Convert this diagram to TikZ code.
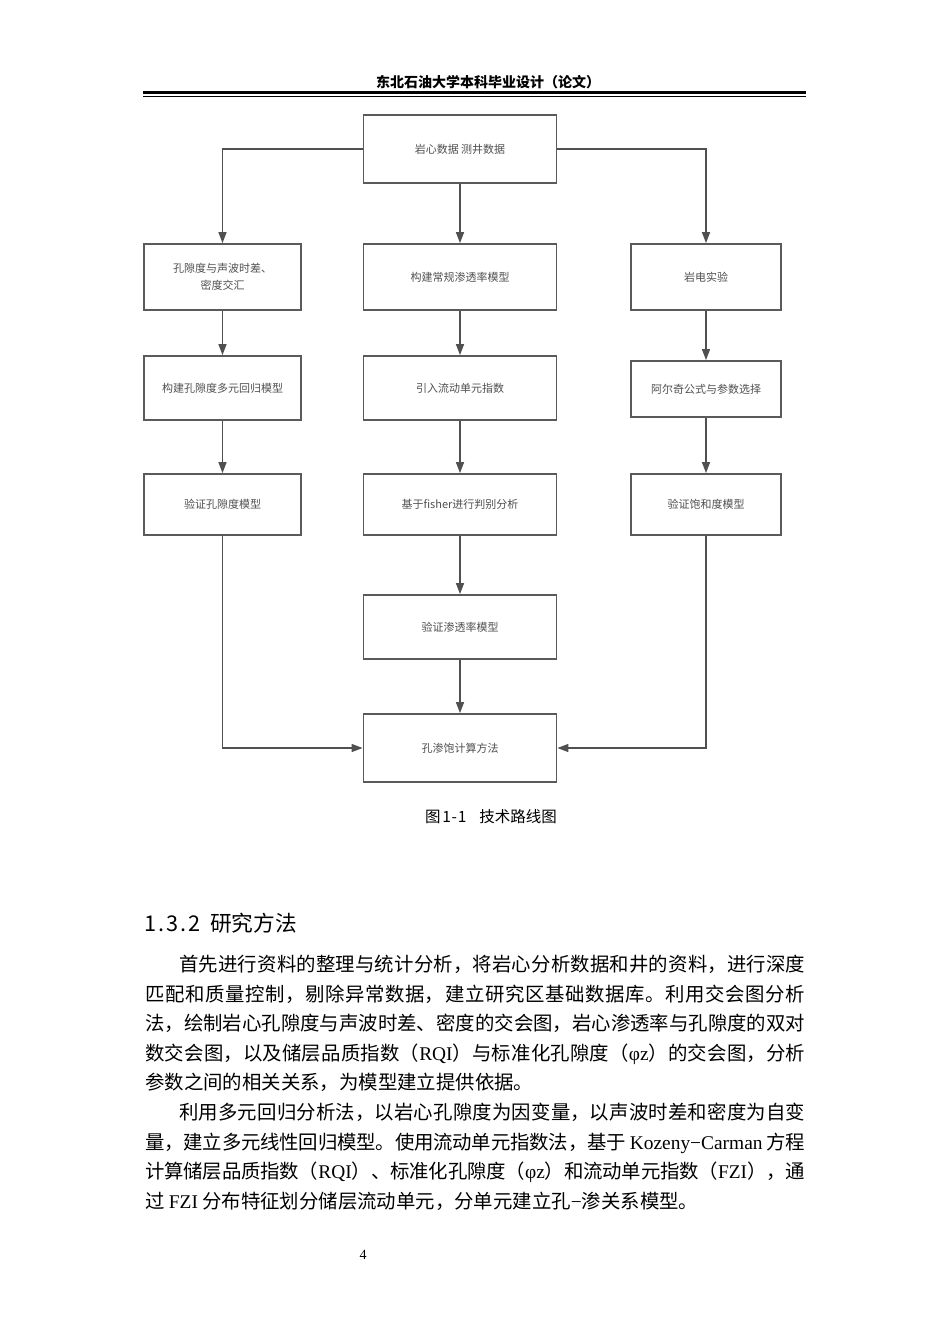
\documentclass[tikz,border=0pt]{standalone}
\usepackage{fontspec}
\setmainfont{Liberation Serif}
\newfontfamily\cjk{Noto Sans CJK SC}
\usetikzlibrary{arrows.meta}
\XeTeXlinebreaklocale "zh"
\XeTeXlinebreakskip=0pt plus 4pt minus 1pt
\definecolor{boxc}{HTML}{5A5A5A}
\definecolor{linec}{HTML}{505050}
\definecolor{txtc}{HTML}{505050}
\newcommand{\hw}[1]{\makebox[0.5em]{#1}}
\newcommand{\jline}[2]{\parbox[t]{#1}{\noindent\parfillskip=0pt\relax\tolerance=9999\relax #2}}
\begin{document}
\begin{tikzpicture}[x=1pt,y=-1pt,
  fbox/.style={draw=boxc, line width=1.8pt, minimum width=193pt, minimum height=66pt,
    inner sep=2pt, font=\cjk\fontsize{11}{17}\selectfont, text=txtc, align=center},
  conn/.style={draw=linec, line width=1.4pt, -{Triangle[length=11pt,width=8pt]}},
  bodyline/.style={anchor=base west, inner sep=0pt, font=\cjk\fontsize{19.4}{19.4}\selectfont}]
\fill[white] (0,0) rectangle (950,1344);
\useasboundingbox (0,0) rectangle (950,1344);

% header
\node[font=\cjk\bfseries\fontsize{14}{14}\selectfont, inner sep=0pt] (hdr) at (488,82) {东北石油大学本科毕业设计（论文）};
\draw[line width=3pt] (143,92.5) -- (806,92.5);
\draw[line width=1pt] (143,96.2) -- (806,96.2);

% flowchart
\node[fbox, minimum height=68pt] (top) at (460,149) {岩心数据 测井数据};
\node[fbox, minimum width=157pt] (l2) at (222.5,277) {孔隙度与声波时差、\\密度交汇};
\node[fbox] (m2) at (460,277) {构建常规渗透率模型};
\node[fbox, minimum width=150pt] (r2) at (706,277) {岩电实验};
\node[fbox, minimum width=157pt, minimum height=64pt] (l3) at (222.5,388) {构建孔隙度多元回归模型};
\node[fbox, minimum height=64pt] (m3) at (460,388) {引入流动单元指数};
\node[fbox, minimum width=150pt, minimum height=56pt] (r3) at (706,389) {阿尔奇公式与参数选择};
\node[fbox, minimum width=157pt, minimum height=61pt] (l4) at (222.5,504.5) {验证孔隙度模型};
\node[fbox, minimum height=61pt] (m4) at (460,504.5) {基于fisher进行判别分析};
\node[fbox, minimum width=150pt, minimum height=61pt] (r4) at (706,504.5) {验证饱和度模型};
\node[fbox, minimum height=64pt] (m5) at (460,627) {验证渗透率模型};
\node[fbox, minimum height=68pt] (m6) at (460,748) {孔渗饱计算方法};

\draw[conn] (top.west) -| (l2.north);
\draw[conn] (top.east) -| (r2.north);
\draw[conn] (top.south) -- (m2.north);
\draw[conn] (l2.south) -- (l3.north);
\draw[conn] (l3.south) -- (l4.north);
\draw[conn] (m2.south) -- (m3.north);
\draw[conn] (m3.south) -- (m4.north);
\draw[conn] (m4.south) -- (m5.north);
\draw[conn] (m5.south) -- (m6.north);
\draw[conn] (r2.south) -- (r3.north);
\draw[conn] (r3.south) -- (r4.north);
\draw[conn] (l4.south) |- (m6.west);
\draw[conn] (r4.south) |- (m6.east);

% caption
\node[anchor=base west, inner sep=0pt, font=\cjk\fontsize{15.5}{15.5}\selectfont] (cap) at (425,822.5)
  {图\hspace{2pt}\hw{1}\hw{-}\hw{1}\hspace{13.5pt}技术路线图};

% heading
\node[anchor=base west, inner sep=0pt, font=\cjk\fontsize{21.7}{21.7}\selectfont] (sec) at (145,931)
  {\hw{1}\hw{.}\hw{3}\hw{.}\hw{2}\hw{}研究方法};

% body paragraph 1
\node[bodyline] (p1a) at (179,971) {\jline{626pt}{首先进行资料的整理与统计分析，将岩心分析数据和井的资料，进行深度}};
\node[bodyline] (p1b) at (145,1001) {\jline{660pt}{匹配和质量控制，剔除异常数据，建立研究区基础数据库。利用交会图分析}};
\node[bodyline] (p1c) at (145,1030) {\jline{660pt}{法，绘制岩心孔隙度与声波时差、密度的交会图，岩心渗透率与孔隙度的双对}};
\node[bodyline] (p1d) at (145,1060) {\jline{660pt}{数交会图，以及储层品质指数（{\rmfamily RQI}）与标准化孔隙度（{\rmfamily φz}）的交会图，分析}};
\node[bodyline] (p1e) at (145,1089) {参数之间的相关关系，为模型建立提供依据。};

% body paragraph 2
\node[bodyline] (p2a) at (179,1119) {\jline{626pt}{利用多元回归分析法，以岩心孔隙度为因变量，以声波时差和密度为自变}};
\node[bodyline] (p2b) at (145,1149) {\jline{660pt}{量，建立多元线性回归模型。使用流动单元指数法，基于 {\rmfamily Kozeny−Carman} 方程}};
\node[bodyline] (p2c) at (145,1178) {\jline{660pt}{计算储层品质指数（{\rmfamily RQI}）、标准化孔隙度（{\rmfamily φz}）和流动单元指数（{\rmfamily FZI}），通}};
\node[bodyline] (p2d) at (145,1208) {过 {\rmfamily FZI} 分布特征划分储层流动单元，分单元建立孔{\rmfamily −}渗关系模型。};

% page number
\node[font=\fontsize{14}{14}\selectfont, inner sep=0pt] (pg) at (363,1255) {4};
\end{tikzpicture}
\end{document}
